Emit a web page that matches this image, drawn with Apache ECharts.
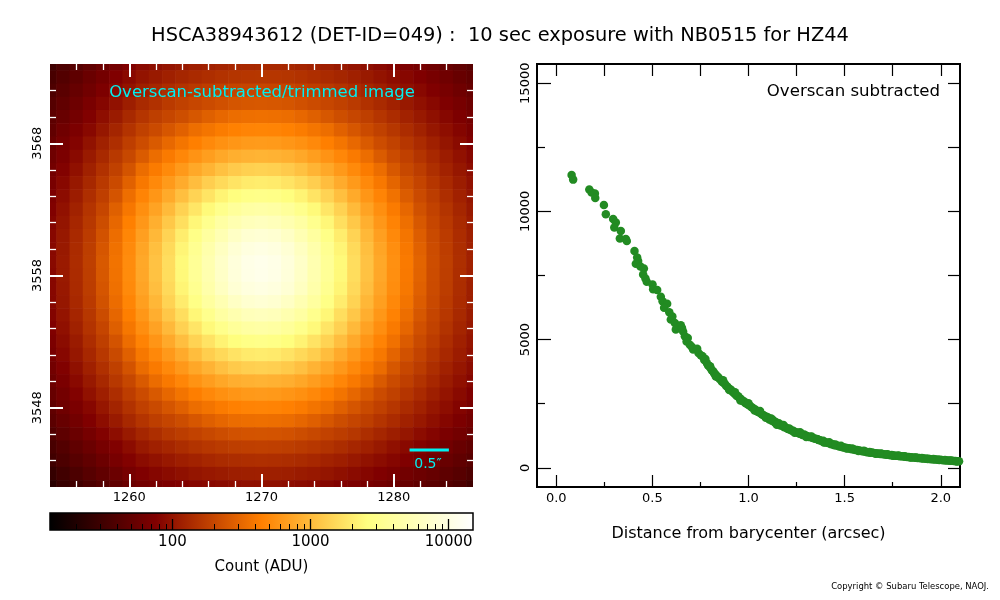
<!DOCTYPE html>
<html>
<head>
<meta charset="utf-8">
<title>HSCA38943612 profile</title>
<script src="https://cdn.jsdelivr.net/npm/echarts@6/dist/echarts.min.js"></script>
<style>
  html, body { margin: 0; padding: 0; background: #fff; }
  #chart { width: 1000px; height: 600px; }
</style>
</head>
<body>
<div id="chart"></div>
<script>
// --- data ---
const titleText = "HSCA38943612 (DET-ID=049) :  10 sec exposure with NB0515 for HZ44";

// pixel centres of the cut-out (first/last column and row are half shown)
const pixelX = [1254,1255,1256,1257,1258,1259,1260,1261,1262,1263,1264,1265,1266,1267,1268,1269,1270,
  1271,1272,1273,1274,1275,1276,1277,1278,1279,1280,1281,1282,1283,1284,1285,1286];
const pixelY = [3574,3573,3572,3571,3570,3569,3568,3567,3566,3565,3564,3563,3562,3561,3560,3559,3558,
  3557,3556,3555,3554,3553,3552,3551,3550,3549,3548,3547,3546,3545,3544,3543,3542];

// counts (ADU), one row per pixelY, top to bottom, columns follow pixelX
const imageRows = [
  [31,37,42,49,57,65,76,86,93,100,107,115,120,125,130,132,133,132,130,125,120,115,107,100,93,86,80,72,66,60,54,49,43],
  [35,41,48,56,65,76,86,99,108,118,128,136,144,152,157,160,162,160,157,152,144,136,128,118,108,99,91,84,76,68,61,54,49],
  [38,45,53,62,73,85,98,116,128,140,153,166,177,186,194,198,200,198,194,186,177,166,153,140,128,116,103,94,85,76,68,60,53],
  [42,50,59,70,82,96,114,135,150,170,185,200,215,230,245,252,255,252,245,230,215,200,185,170,150,135,120,107,95,85,75,67,59],
  [47,55,65,77,92,110,133,158,180,200,222,252,285,315,340,350,355,350,340,315,285,252,222,200,180,158,140,122,107,94,83,73,65],
  [50,61,72,85,104,126,154,186,212,250,290,345,380,420,450,470,475,470,450,420,380,345,290,250,212,186,162,140,121,104,92,81,70],
  [55,66,79,97,119,144,179,217,262,320,380,440,505,560,600,635,645,635,600,560,505,440,380,320,262,217,188,160,138,118,101,88,76],
  [60,72,87,108,133,166,204,265,340,410,490,580,670,770,850,890,910,890,850,770,670,580,490,410,340,265,215,184,155,132,112,96,83],
  [65,78,95,119,150,185,242,340,415,510,625,770,910,1090,1240,1340,1380,1340,1240,1090,910,770,625,510,415,340,255,205,175,145,122,104,90],
  [69,85,105,131,167,212,290,400,505,635,810,1040,1310,1540,1770,1950,2000,1950,1770,1540,1310,1040,810,635,505,400,305,235,194,160,134,113,96],
  [73,90,112,144,182,243,347,470,600,790,1060,1410,1770,2200,2550,2850,2950,2850,2550,2200,1770,1410,1060,790,600,470,365,270,212,176,144,120,101],
  [77,96,121,156,200,284,394,545,720,990,1380,1820,2390,3040,3700,4200,4400,4200,3700,3040,2390,1820,1380,990,720,545,415,315,232,190,155,128,107],
  [81,101,129,164,219,315,442,615,850,1200,1650,2320,3150,4200,5000,5800,6100,5800,5000,4200,3150,2320,1650,1200,850,615,465,350,255,200,165,135,112],
  [84,105,134,172,237,342,480,685,960,1410,2000,2850,4000,5250,6700,7900,8300,7900,6700,5250,4000,2850,2000,1410,960,685,505,380,275,210,172,140,116],
  [85,107,138,178,249,360,513,740,1060,1540,2250,3280,4700,6400,8300,9600,10150,9600,8300,6400,4700,3280,2250,1540,1060,740,540,400,290,217,177,143,118],
  [86,109,140,180,258,369,527,770,1110,1610,2390,3530,5000,7000,9100,10700,11400,10700,9100,7000,5000,3530,2390,1610,1110,770,555,410,300,220,180,145,120],
  [84,108,138,178,255,365,522,765,1100,1600,2370,3500,4950,6950,9050,10650,11250,10600,9050,6950,4950,3500,2370,1600,1100,765,550,405,297,218,178,143,118],
  [84,106,136,176,246,356,508,735,1050,1530,2230,3250,4650,6350,8250,9500,10050,9550,8250,6350,4650,3250,2230,1530,1050,735,535,396,287,215,175,141,116],
  [83,104,132,170,234,338,475,680,950,1400,1980,2830,3960,5200,6650,7850,8250,7850,6650,5200,3960,2830,1980,1400,950,680,500,376,272,208,170,138,114],
  [80,100,127,162,216,311,437,610,840,1190,1630,2300,3120,4150,4950,5750,6050,5750,4950,4150,3120,2300,1630,1190,840,610,460,346,252,198,163,133,110],
  [76,95,119,154,197,280,390,540,712,980,1365,1800,2370,3010,3660,4150,4350,4150,3660,3010,2370,1800,1365,980,712,540,410,311,229,188,153,126,105],
  [72,89,110,142,180,240,343,465,595,785,1050,1400,1750,2180,2530,2820,2920,2820,2530,2180,1750,1400,1050,785,595,465,362,268,210,174,142,118,100],
  [68,84,104,130,165,210,287,396,500,630,800,1030,1300,1520,1750,1930,1980,1930,1750,1520,1300,1030,800,630,500,396,302,233,192,158,132,112,95],
  [64,77,94,118,148,183,240,336,410,505,620,762,900,1080,1230,1330,1370,1330,1230,1080,900,762,620,505,410,336,252,203,173,143,120,103,89],
  [59,71,86,107,131,164,202,262,336,405,485,575,665,762,842,880,900,880,842,762,665,575,485,405,336,262,213,182,153,130,110,95,82],
  [54,65,78,96,117,142,177,215,259,316,376,435,500,554,594,628,638,628,594,554,500,435,376,316,259,215,186,158,136,116,100,87,75],
  [49,60,71,84,103,124,152,184,210,247,287,341,376,415,445,465,470,465,445,415,376,341,287,247,210,184,160,138,120,103,91,80,69],
  [46,54,64,76,91,108,131,156,178,198,219,249,282,311,336,346,351,346,336,311,282,249,219,198,178,156,138,120,106,93,82,72,64],
  [40,48,56,66,78,91,108,128,143,162,176,190,204,219,233,239,242,239,233,219,204,190,176,162,143,128,114,102,90,81,71,64,56],
  [35,41,49,57,67,77,90,107,118,129,141,153,163,171,178,182,184,182,178,171,163,153,141,129,118,107,95,86,78,70,63,55,49],
  [32,37,43,50,58,68,78,89,97,106,115,122,130,137,141,144,146,144,141,137,130,122,115,106,97,89,82,76,68,61,55,49,44],
  [27,32,37,43,50,57,67,76,82,88,94,101,106,110,114,116,117,116,114,110,106,101,94,88,82,76,70,63,58,53,48,43,38],
  [23,28,32,37,42,49,56,64,68,73,77,82,85,88,91,94,94,94,91,88,85,82,77,73,68,64,59,54,49,45,41,37,32]
];

// radial profile: [distance (arcsec), count (ADU)]
const profileInner = [
  [0.080,11420],[0.088,11240],[0.172,10850],[0.184,10740],[0.201,10700],[0.203,10520],[0.248,10250],
  [0.258,9890],[0.296,9700],[0.310,9570],[0.302,9370],[0.336,9240],[0.331,8940],[0.362,8920],[0.367,8850],
  [0.407,8460],[0.421,8200],[0.426,8070],[0.414,7960],[0.438,7850],[0.456,7770],[0.452,7540],[0.464,7380],
  [0.471,7260],[0.501,7150],[0.504,6960],[0.525,6930],[0.544,6670],[0.553,6500],[0.577,6400],[0.561,6240],
  [0.588,6070],[0.596,5780],[0.604,5900],[0.617,5650],[0.648,5560],[0.622,5390],[0.660,5320],[0.654,5450],
  [0.669,5130],[0.678,4930],[0.684,5060],[0.695,4800],[0.705,4720],[0.712,4610],[0.733,4640],[0.740,4480],
  [0.752,4390],[0.761,4350]
];
const profileOuter = [
  [0.770,4200],[0.776,4240],[0.784,4080],[0.790,3990],[0.797,3960],[0.803,3880],[0.810,3790],[0.817,3760],
  [0.821,3690],[0.829,3640],[0.836,3570],[0.842,3530],[0.850,3460],[0.858,3420],[0.862,3360],[0.871,3310],
  [0.878,3270],[0.884,3190],[0.891,3160],[0.897,3090],[0.905,3060],[0.912,3010],[0.918,2960],[0.926,2910],
  [0.933,2860],[0.939,2800],[0.947,2790],[0.953,2720],[0.961,2680],[0.968,2610],[0.976,2590],[0.983,2530],
  [0.991,2500],[0.998,2460],[1.006,2430],[1.014,2370],[1.021,2340],[1.030,2290],[1.037,2260],[1.045,2200],
  [1.054,2170],[1.061,2140],[1.070,2080],[1.077,2060],[1.086,2010],[1.094,1990],[1.102,1960],[1.108,1880],
  [1.113,1900],[1.121,1830],[1.127,1860],[1.136,1780],[1.142,1790],[1.151,1720],[1.158,1740],[1.163,1660],
  [1.171,1650],[1.179,1630],[1.186,1580],[1.194,1570],[1.203,1520],[1.210,1500],[1.218,1480],[1.226,1440],
  [1.233,1440],[1.241,1400],[1.249,1390],[1.258,1360],[1.266,1330],[1.273,1320],[1.281,1280],[1.290,1300],
  [1.297,1250],[1.305,1240],[1.314,1200],[1.322,1210],[1.330,1170],[1.339,1150],[1.347,1130],[1.355,1120],
  [1.364,1080],[1.372,1070],[1.380,1040],[1.389,1050],[1.397,1000],[1.405,990],[1.414,970],[1.422,960],
  [1.430,920],[1.439,920],[1.447,880],[1.455,880],[1.464,860],[1.472,830],[1.480,830],[1.489,800],
  [1.497,790],[1.506,780],[1.514,760],[1.523,760],[1.531,730],[1.540,720],[1.548,710],[1.557,690],
  [1.565,690],[1.574,670],[1.582,660],[1.591,640],[1.599,640],[1.608,630],[1.616,610],[1.625,610],
  [1.633,590],[1.642,600],[1.651,580],[1.659,570],[1.668,560],[1.676,560],[1.685,540],[1.694,540],
  [1.702,530],[1.711,520],[1.719,510],[1.728,510],[1.737,490],[1.745,500],[1.754,480],[1.763,470],
  [1.772,470],[1.781,460],[1.789,450],[1.798,450],[1.807,440],[1.816,430],[1.825,420],[1.834,420],
  [1.843,410],[1.852,400],[1.861,400],[1.870,390],[1.879,380],[1.888,380],[1.897,370],[1.906,360],
  [1.915,360],[1.924,350],[1.933,350],[1.942,340],[1.951,330],[1.960,330],[1.969,320],[1.978,320],
  [1.987,310],[1.996,310],[2.005,300],[2.014,290],[2.023,290],[2.032,280],[2.041,280],[2.050,270],
  [2.059,270],[2.068,260],[2.077,260],[2.086,250],[2.095,250],[2.104,240]
];
// pixels lying a little off the mean curve (thickness of the band)
const profileSpread = [
  [0.800,3960],[0.830,3560],[0.868,3410],[0.900,3030],[0.930,2950],[0.958,2620],[1.000,2520],[1.032,2230],
  [1.060,2210],[1.090,1950],[1.118,1920],[1.147,1680],[1.182,1670],[1.212,1530],[1.240,1370],[1.268,1390],
  [1.300,1200],[1.328,1220],[1.360,1110],[1.392,990],[1.420,1000],[1.452,910],[1.481,860],[1.510,750],
  [1.540,750],[1.572,655],[1.600,665],[1.630,620],[1.662,550],[1.690,555],[1.722,525],[1.752,465],
  [1.781,475],[1.812,445],[1.842,400],[1.872,400],[1.902,378],[1.932,338],[1.962,342],[1.992,302],
  [2.022,302],[2.052,282],[2.082,248]
];

// tick values
const imgXMajor = [1260, 1270, 1280];
const imgXMinor = [1256,1258,1262,1264,1266,1268,1272,1274,1276,1278,1282,1284];
const imgYMajor = [3548, 3558, 3568];
const imgYMinor = [3544,3546,3550,3552,3554,3556,3560,3562,3564,3566,3570,3572];
const cbarMajor = [100, 1000, 10000];
const cbarMinor = [20,30,40,50,60,70,80,90,200,300,400,500,600,700,800,900,2000,3000,4000,5000,6000,7000,8000,9000];
const profXMajor = [0, 0.5, 1, 1.5, 2];
const profXMinor = [0.25, 0.75, 1.25, 1.75];
const profYMajor = [0, 5000, 10000, 15000];
const profYMinor = [2500, 7500, 12500];

const colorMin = 13, colorMax = 15000;   // log stretch of the colour bar
const pixelScale = 0.168;                // arcsec per pixel
const scaleBarArcsec = 0.5;

// matplotlib "afmhot" on a log stretch
function clamp01(t) { return Math.max(0, Math.min(1, t)); }
function afmhot(v) {
  const lo = Math.log10(colorMin), hi = Math.log10(colorMax);
  const n = clamp01((Math.log10(Math.max(v, 1e-3)) - lo) / (hi - lo));
  const r = Math.round(255 * clamp01(2 * n));
  const g = Math.round(255 * clamp01(2 * n - 0.5));
  const b = Math.round(255 * clamp01(2 * n - 1));
  return 'rgb(' + r + ',' + g + ',' + b + ')';
}

const imageData = [];
pixelY.forEach((y, i) => {
  pixelX.forEach((x, j) => { imageData.push([x, y, imageRows[i][j]]); });
});

const font = 'DejaVu Sans';
const plain = v => String(v);

function mkAxis(o) {
  const ax = {
    type: o.type || 'value',
    gridIndex: o.grid,
    position: o.pos,
    min: o.min,
    max: o.max,
    z: 10,
    axisLine: { show: false, onZero: false },
    splitLine: { show: false },
    axisTick: {
      show: true, inside: true, length: o.len, customValues: o.ticks,
      lineStyle: { color: o.color, width: o.lw }
    },
    axisLabel: { show: false }
  };
  if (o.type === 'log') ax.logBase = 10;
  if (o.labels) {
    ax.axisLabel = {
      show: true, customValues: o.labels, color: '#000', fontFamily: font,
      fontSize: o.fontSize || 13, margin: o.margin || 4, rotate: o.rotate || 0,
      formatter: o.formatter || plain
    };
  }
  if (o.name) {
    ax.name = o.name;
    ax.nameLocation = 'middle';
    ax.nameGap = o.nameGap;
    ax.nameTextStyle = { color: '#000', fontFamily: font, fontSize: o.nameSize };
  }
  return ax;
}

const W = '#ffffff', K = '#000000';
const imgX = [1254, 1286], imgY = [3542, 3574];

const xAxes = [
  // image
  mkAxis({ grid: 0, pos: 'bottom', min: imgX[0], max: imgX[1], ticks: imgXMajor, len: 13, lw: 2, color: W, labels: imgXMajor, margin: 4 }),
  mkAxis({ grid: 0, pos: 'bottom', min: imgX[0], max: imgX[1], ticks: imgXMinor, len: 6, lw: 1.3, color: W }),
  mkAxis({ grid: 0, pos: 'top', min: imgX[0], max: imgX[1], ticks: imgXMajor, len: 13, lw: 2, color: W }),
  mkAxis({ grid: 0, pos: 'top', min: imgX[0], max: imgX[1], ticks: imgXMinor, len: 6, lw: 1.3, color: W }),
  // colour bar
  mkAxis({ grid: 1, type: 'log', pos: 'bottom', min: colorMin, max: colorMax, ticks: cbarMajor, len: 11, lw: 1.3, color: K,
    labels: cbarMajor, fontSize: 15, margin: 5, name: 'Count (ADU)', nameGap: 30, nameSize: 15 }),
  mkAxis({ grid: 1, type: 'log', pos: 'bottom', min: colorMin, max: colorMax, ticks: cbarMinor, len: 6, lw: 1, color: K }),
  // profile
  mkAxis({ grid: 2, pos: 'bottom', min: -0.1, max: 2.1, ticks: profXMajor, len: 12, lw: 1.2, color: K, labels: profXMajor,
    fontSize: 13, margin: 5, formatter: v => Number(v).toFixed(1),
    name: 'Distance from barycenter (arcsec)', nameGap: 39, nameSize: 16 }),
  mkAxis({ grid: 2, pos: 'bottom', min: -0.1, max: 2.1, ticks: profXMinor, len: 5, lw: 1.2, color: K }),
  mkAxis({ grid: 2, pos: 'top', min: -0.1, max: 2.1, ticks: profXMajor.concat(profXMinor), len: 12, lw: 1.2, color: K })
];

const yAxes = [
  mkAxis({ grid: 0, pos: 'left', min: imgY[0], max: imgY[1], ticks: imgYMajor, len: 13, lw: 2, color: W, labels: imgYMajor, rotate: 90, margin: 6 }),
  mkAxis({ grid: 0, pos: 'left', min: imgY[0], max: imgY[1], ticks: imgYMinor, len: 6, lw: 1.3, color: W }),
  mkAxis({ grid: 0, pos: 'right', min: imgY[0], max: imgY[1], ticks: imgYMajor, len: 13, lw: 2, color: W }),
  mkAxis({ grid: 0, pos: 'right', min: imgY[0], max: imgY[1], ticks: imgYMinor, len: 6, lw: 1.3, color: W }),
  { type: 'value', gridIndex: 1, min: 0, max: 1, show: false },
  mkAxis({ grid: 2, pos: 'left', min: -750, max: 15750, ticks: profYMajor, len: 14, lw: 1.2, color: K, labels: profYMajor, rotate: 90, margin: 5 }),
  mkAxis({ grid: 2, pos: 'left', min: -750, max: 15750, ticks: profYMinor, len: 8, lw: 1.2, color: K }),
  mkAxis({ grid: 2, pos: 'right', min: -750, max: 15750, ticks: profYMajor.concat(profYMinor), len: 12, lw: 1.2, color: K })
];

const cyan = '#00f0f0';

const option = {
  animation: false,
  backgroundColor: '#ffffff',
  textStyle: { fontFamily: font },
  grid: [
    { left: 50, top: 64, width: 423, height: 423 },
    { left: 50, top: 513, width: 423, height: 17, show: true, borderColor: '#000', borderWidth: 1.5, backgroundColor: 'transparent', z: 5 },
    { left: 537, top: 64, width: 423, height: 423, show: true, borderColor: '#000', borderWidth: 2, backgroundColor: 'transparent' }
  ],
  xAxis: xAxes,
  yAxis: yAxes,
  graphic: [
    { type: 'text', x: 500, y: 36, style: { text: titleText, fontSize: 19.4, fontFamily: font, fill: '#000',
      align: 'center', verticalAlign: 'middle' } },
    { type: 'text', x: 262, y: 93, style: { text: 'Overscan-subtracted/trimmed image', fontSize: 16.5, fontFamily: font,
      fill: cyan, align: 'center', verticalAlign: 'middle' }, z: 10 },
    { type: 'text', x: 428, y: 464, style: { text: scaleBarArcsec + '\u2033', fontSize: 14, fontFamily: font,
      fill: cyan, align: 'center', verticalAlign: 'middle' }, z: 10 },
    { type: 'text', x: 940, y: 92, style: { text: 'Overscan subtracted', fontSize: 16.6, fontFamily: font,
      fill: '#000', align: 'right', verticalAlign: 'middle' }, z: 10 },
    { type: 'text', x: 989, y: 587, style: { text: 'Copyright \u00a9 Subaru Telescope, NAOJ.', fontSize: 9.4,
      fontFamily: 'Liberation Sans Narrow, DejaVu Sans Condensed, sans-serif', fill: '#000', align: 'right', verticalAlign: 'middle' } }
  ],
  series: [
    {
      type: 'custom',
      name: 'image',
      xAxisIndex: 0, yAxisIndex: 0,
      clip: true,
      data: imageData,
      encode: { x: 0, y: 1 },
      renderItem: function (params, api) {
        const x = api.value(0), y = api.value(1), v = api.value(2);
        const p0 = api.coord([x - 0.5, y + 0.5]);
        const p1 = api.coord([x + 0.5, y - 0.5]);
        const c = afmhot(v);
        return {
          type: 'rect',
          shape: { x: p0[0] - 0.3, y: p0[1] - 0.3, width: p1[0] - p0[0] + 0.6, height: p1[1] - p0[1] + 0.6 },
          style: { fill: c }
        };
      }
    },
    {
      // scale bar, length = 0.5 arcsec in pixels
      type: 'line',
      xAxisIndex: 0, yAxisIndex: 0,
      data: [[1281.2, 3544.8], [1281.2 + scaleBarArcsec / pixelScale, 3544.8]],
      symbol: 'none',
      lineStyle: { color: cyan, width: 3 },
      z: 10, silent: true
    },
    {
      type: 'custom',
      name: 'colorbar',
      xAxisIndex: 4, yAxisIndex: 4,
      data: [[colorMin, colorMax]],
      renderItem: function (params, api) {
        const p0 = api.coord([api.value(0), 1]);
        const p1 = api.coord([api.value(1), 0]);
        return {
          type: 'rect',
          shape: { x: p0[0], y: p0[1], width: p1[0] - p0[0], height: p1[1] - p0[1] },
          style: {
            fill: new echarts.graphic.LinearGradient(0, 0, 1, 0, [
              { offset: 0, color: 'rgb(0,0,0)' },
              { offset: 0.25, color: 'rgb(128,0,0)' },
              { offset: 0.5, color: 'rgb(255,128,0)' },
              { offset: 0.75, color: 'rgb(255,255,128)' },
              { offset: 1, color: 'rgb(255,255,255)' }
            ])
          }
        };
      }
    },
    {
      type: 'scatter',
      name: 'profile',
      xAxisIndex: 6, yAxisIndex: 5,
      data: profileInner.concat(profileOuter, profileSpread),
      symbol: 'circle',
      symbolSize: 8.5,
      itemStyle: { color: '#228b22', opacity: 1 },
      clip: true
    }
  ]
};

const chart = echarts.init(document.getElementById('chart'), null, { renderer: 'canvas' });
chart.setOption(option);
</script>
</body>
</html>
